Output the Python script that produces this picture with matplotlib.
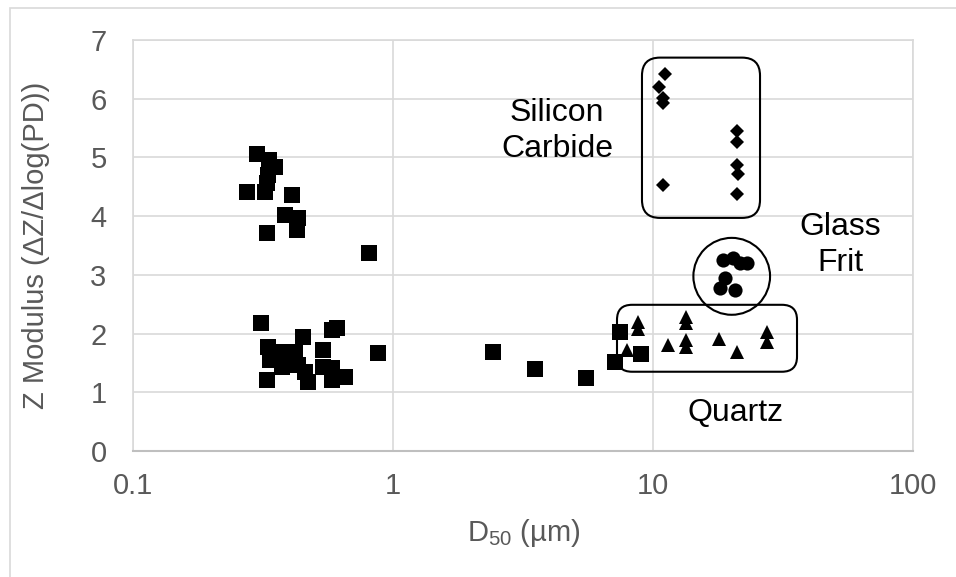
import matplotlib
matplotlib.use("Agg")
import matplotlib.pyplot as plt
from matplotlib.patches import FancyBboxPatch, Ellipse, Rectangle
from matplotlib.transforms import IdentityTransform

plt.rcParams['font.family'] = ['Liberation Sans', 'DejaVu Sans']
plt.rcParams['mathtext.default'] = 'regular'

# ---- data: D50 (um) and Z modulus ----
powder_d50 = [0.300, 0.333, 0.352, 0.330, 0.328, 0.274, 0.322, 0.409, 0.384, 0.431,
              0.328, 0.427, 0.809,
              0.311, 0.330, 0.336, 0.368, 0.374, 0.328, 0.420, 0.451, 0.431, 0.459,
              0.471, 0.538, 0.583, 0.609, 0.538, 0.583, 0.583, 0.654, 0.876, 0.391,
              2.43, 3.52, 5.52, 7.47, 7.14, 9.0]
powder_z = [5.05, 4.96, 4.84, 4.70, 4.57, 4.41, 4.41, 4.36, 4.02, 3.97,
            3.71, 3.76, 3.37,
            2.18, 1.77, 1.55, 1.69, 1.43, 1.21, 1.69, 1.94, 1.47, 1.35,
            1.18, 1.72, 2.06, 2.10, 1.43, 1.41, 1.21, 1.26, 1.67, 1.63,
            1.69, 1.40, 1.24, 2.03, 1.52, 1.65]

quartz_d50 = [7.94, 8.76, 8.76, 11.4, 13.4, 13.4, 13.4, 13.4, 17.9, 21.0, 27.4, 27.4]
quartz_z = [1.72, 2.20, 2.08, 1.81, 2.28, 2.18, 1.89, 1.77, 1.91, 1.69, 2.03, 1.86]

sic_d50 = [11.1, 10.5, 10.9, 10.9, 10.9, 21.0, 21.0, 21.0, 21.2, 21.0]
sic_z = [6.42, 6.20, 6.01, 5.93, 4.53, 5.45, 5.26, 4.87, 4.72, 4.38]

frit_d50 = [18.6, 20.3, 23.0, 21.6, 18.9, 18.1, 20.7]
frit_z = [3.25, 3.29, 3.20, 3.20, 2.95, 2.78, 2.74]

x_ticks = [0.1, 1, 10, 100]
x_tick_labels = ['0.1', '1', '10', '100']
y_ticks = [0, 1, 2, 3, 4, 5, 6, 7]

GRID = '#d9d9d9'
TICK = '#595959'
FS = 21
FS_NOTE = 23

fig = plt.figure(figsize=(9.56, 5.77), dpi=100)
fig.patch.set_facecolor('white')
# chart-area border
fig.add_artist(Rectangle((10 / 956, -0.1), 2.0, 1.1 + (1 - 8 / 577) - 1.0,
                         transform=fig.transFigure, fill=False,
                         edgecolor=GRID, lw=1.2))

ax = fig.add_axes([133 / 956, 1 - 451 / 577, 780 / 956, 411 / 577])
ax.set_xscale('log')
ax.set_xlim(0.1, 100)
ax.set_ylim(0, 7)

ax.set_xticks(x_ticks)
ax.set_xticklabels(x_tick_labels)
ax.xaxis.set_minor_locator(plt.NullLocator())
ax.set_yticks(y_ticks)
ax.tick_params(axis='both', length=0, labelsize=FS, labelcolor=TICK)
ax.tick_params(axis='x', pad=15)
ax.tick_params(axis='y', pad=19)

ax.grid(True, color=GRID, lw=1.2)
ax.set_axisbelow(True)
for side in ['left', 'top', 'right']:
    ax.spines[side].set_color(GRID)
    ax.spines[side].set_linewidth(1.2)
ax.spines['bottom'].set_color('#bfbfbf')
ax.spines['bottom'].set_linewidth(1.5)

# data series
ax.plot(powder_d50, powder_z, ls='none', marker='s', ms=11.0, color='black', mew=0, zorder=3)
ax.plot(quartz_d50, quartz_z, ls='none', marker='^', ms=9.8, color='black', mew=0, zorder=3)
ax.plot(sic_d50, sic_z, ls='none', marker='D', ms=6.8, color='black', mew=0, zorder=3)
ax.plot(frit_d50, frit_z, ls='none', marker='o', ms=10.2, color='black', mew=0, zorder=3)

# group outlines, positioned from data extents
fig.canvas.draw()
to_px = ax.transData.transform


def rounded_box(x0, x1, y0, y1, radius):
    (px0, py0), (px1, py1) = to_px([(x0, y0), (x1, y1)])
    box = FancyBboxPatch((px0, py0), px1 - px0, py1 - py0,
                         boxstyle=f"round,pad=0,rounding_size={radius}",
                         transform=IdentityTransform(), fill=False,
                         edgecolor='black', lw=1.5, clip_on=False, zorder=4)
    fig.add_artist(box)


def ring(x0, x1, y0, y1):
    (px0, py0), (px1, py1) = to_px([(x0, y0), (x1, y1)])
    e = Ellipse(((px0 + px1) / 2, (py0 + py1) / 2), px1 - px0, py1 - py0,
                transform=IdentityTransform(), fill=False,
                edgecolor='black', lw=1.5, clip_on=False, zorder=4)
    fig.add_artist(e)


rounded_box(9.07, 25.8, 3.97, 6.70, 18)
rounded_box(7.27, 35.8, 1.35, 2.49, 15)
ring(14.3, 28.2, 2.32, 3.63)

ax.text(4.27, 5.45, 'Silicon\nCarbide', fontsize=FS_NOTE, ha='center', va='center',
        multialignment='center', linespacing=1.25, color='black')
ax.text(52.4, 3.51, 'Glass\nFrit', fontsize=FS_NOTE, ha='center', va='center',
        multialignment='center', linespacing=1.25, color='black')
ax.text(20.7, 0.65, 'Quartz', fontsize=FS_NOTE, ha='center', va='center', color='black')

fig.text(524 / 956, 1 - 533 / 577, 'D$_{50}$ (µm)', fontsize=FS, color=TICK,
         ha='center', va='center')
fig.text(36 / 956, 1 - 245 / 577, 'Z Modulus (ΔZ/Δlog(PD))', fontsize=FS, color=TICK,
         ha='center', va='center', rotation=90)

fig.savefig('out.png', dpi=100, facecolor='white')
